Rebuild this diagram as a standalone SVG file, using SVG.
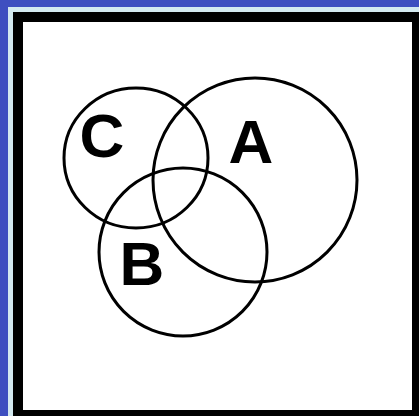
<svg xmlns="http://www.w3.org/2000/svg" width="419" height="416" viewBox="0 0 419 416">
<style>
.set{fill:none;stroke:#000;stroke-width:3}
.lbl{font-family:"Liberation Sans",Arial,sans-serif;font-weight:bold;font-size:62px;fill:#000;text-anchor:middle}
</style>
<rect x="0" y="0" width="419" height="416" fill="#3e4fc0"/>
<rect x="8" y="7" width="411" height="409" fill="#d4eaf0"/>
<rect x="13" y="12" width="406" height="404" fill="#000"/>
<rect x="23" y="22" width="389" height="388" fill="#fff"/>
<g id="setA"><circle class="set" cx="255" cy="180" r="102"/><text class="lbl" x="251" y="163">A</text></g>
<g id="setC"><ellipse class="set" cx="136" cy="158" rx="72" ry="70"/><text class="lbl" x="102" y="157">C</text></g>
<g id="setB"><circle class="set" cx="183" cy="252" r="84"/><text class="lbl" x="142" y="285">B</text></g>
</svg>
